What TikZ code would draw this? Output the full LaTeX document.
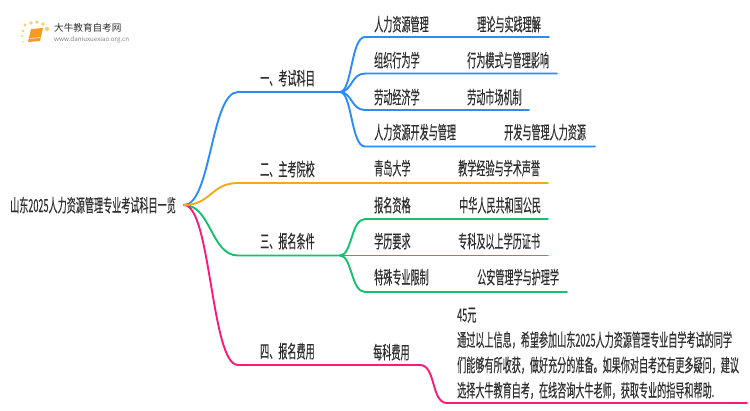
\documentclass[tikz,border=0pt]{standalone}
\usepackage{fontspec}
\usepackage{xcolor}
\setmainfont{Noto Sans CJK SC}[FakeStretch=0.505, FakeBold=0.25]
\newfontfamily\logofont{Noto Sans CJK SC}
\definecolor{bluebr}{HTML}{2B8CF7}
\definecolor{orangebr}{HTML}{F5A81C}
\definecolor{greenbr}{HTML}{17C06F}
\definecolor{pinkbr}{HTML}{FB1A78}
\definecolor{inkc}{HTML}{2E2E2E}
\definecolor{logodot}{HTML}{FBD06A}
\definecolor{logobook}{HTML}{F59A23}

\begin{document}
\begin{tikzpicture}[x=1pt, y=-1pt,
	lab/.style = {anchor=base west, inner sep=0, text=inkc, font=\fontsize{18}{20}\selectfont},
	para/.style = {anchor=north west, inner sep=0, align=left, text=inkc, font=\fontsize{18}{25.2}\selectfont},
	br/.style = {line width=1.9pt, line cap=round}]
	\useasboundingbox (0,0) rectangle (750,410);
	% logo
	\foreach \px/\py/\pr in {25/25/1.6, 31/23/1.8, 37/22/1.9, 43/24/1.9, 47/29/2.1, 23/31/1.3, 22/36/1.1, 23/42/.9}
		\fill[logodot] (\px,\py) circle (\pr);
	\fill[logobook] (31,29) -- (43,28) -- (40,41) -- (28,42) -- cycle;
	\draw[white, line width=.5pt] (30,38.5) -- (40.5,37.5);
	\node[anchor=base west, inner sep=0, text=inkc] (logotxt) at (54,31) {\logofont\fontsize{9.6}{12}\selectfont 大牛教育自考网};
	\node[anchor=base west, inner sep=0, text=gray] (logourl) at (54,41) {\logofont\fontsize{6.2}{8}\selectfont www.daniuxuexiao.org.cn};
	% root
	\node[lab] (root) at (10,212) {山东2025人力资源管理专业考试科目一览};
	\coordinate (rootend) at (184,205);
	% first level
	\node[lab] (b1) at (260,85) {一、考试科目};
	\node[lab] (b2) at (260,176) {二、主考院校};
	\node[lab] (b3) at (260,248) {三、报名条件};
	\node[lab] (b4) at (260,358) {四、报名费用};
	\coordinate (b1s) at (238,92);
	\coordinate (b1e) at (340,92);
	\coordinate (b2s) at (238,183);
	\coordinate (b3s) at (238,255.5);
	\coordinate (b3e) at (340,255.5);
	\coordinate (b4s) at (238,365);
	\coordinate (b4e) at (420,365);
	\draw[br, bluebr] (rootend) .. controls (211,205) and (211,92) .. (b1s) -- (b1e);
	\draw[br, greenbr] (rootend) .. controls (211,205) and (211,255.5) .. (b3s) -- (b3e);
	\draw[br, pinkbr] (rootend) .. controls (211,205) and (211,365) .. (b4s) -- (b4e);
	% branch one
	\node[lab] (a1) at (374,31) {人力资源管理};
	\node[lab] (a1r) at (477,31) {理论与实践理解};
	\node[lab] (a2) at (374,67) {组织行为学};
	\node[lab] (a2r) at (467,67) {行为模式与管理影响};
	\node[lab] (a3) at (374,104) {劳动经济学};
	\node[lab] (a3r) at (467,104) {劳动市场机制};
	\node[lab] (a4) at (374,139) {人力资源开发与管理};
	\node[lab] (a4r) at (504,139) {开发与管理人力资源};
	\coordinate (a1e) at (549,37);
	\coordinate (a2e) at (557,73.5);
	\coordinate (a3e) at (529,110);
	\coordinate (a4e) at (595,146.5);
	\draw[br, bluebr] (b1e) .. controls (352,92) and (351,37) .. (365,37) -- (a1e);
	\draw[br, bluebr] (b1e) .. controls (352,92) and (351,73.5) .. (365,73.5) -- (a2e);
	\draw[br, bluebr] (b1e) .. controls (352,92) and (351,110) .. (365,110) -- (a3e);
	\draw[br, bluebr] (b1e) .. controls (352,92) and (351,146.5) .. (365,146.5) -- (a4e);
	% branch two
	\node[lab] (c1) at (374,175) {青岛大学};
	\node[lab] (c1r) at (458,175) {教学经验与学术声誉};
	\coordinate (c1e) at (548,183);
	\draw[br, orangebr] (rootend) .. controls (211,205) and (211,183) .. (b2s) -- (c1e);
	% branch three
	\node[lab] (d1) at (374,212) {报名资格};
	\node[lab] (d1r) at (459,212) {中华人民共和国公民};
	\node[lab] (d2) at (374,248) {学历要求};
	\node[lab] (d2r) at (458,248) {专科及以上学历证书};
	\node[lab] (d3) at (374,284) {特殊专业限制};
	\node[lab] (d3r) at (477,284) {公安管理学与护理学};
	\coordinate (d1e) at (548,219);
	\coordinate (d2e) at (548,255.5);
	\coordinate (d3e) at (567,292);
	\draw[br, greenbr] (b3e) .. controls (352,255.5) and (351,219) .. (365,219) -- (d1e);
	\draw[br, greenbr] (b3e) -- (d2e);
	\draw[br, greenbr] (b3e) .. controls (352,255.5) and (351,292) .. (365,292) -- (d3e);
	% branch four
	\node[lab] (e1) at (373,359) {每科费用};
	\node[para] (e1r) at (457,307.5) {45元\\通过以上信息，希望参加山东2025人力资源管理专业自学考试的同学\\们能够有所收获，做好充分的准备。如果你对自考还有更多疑问，建议\\选择大牛教育自考，在线咨询大牛老师，获取专业的指导和帮助.};
	\coordinate (e1e) at (747,403);
	\draw[br, pinkbr] (b4e) .. controls (436,365) and (431,403) .. (447,403) -- (e1e);
\end{tikzpicture}
\end{document}
